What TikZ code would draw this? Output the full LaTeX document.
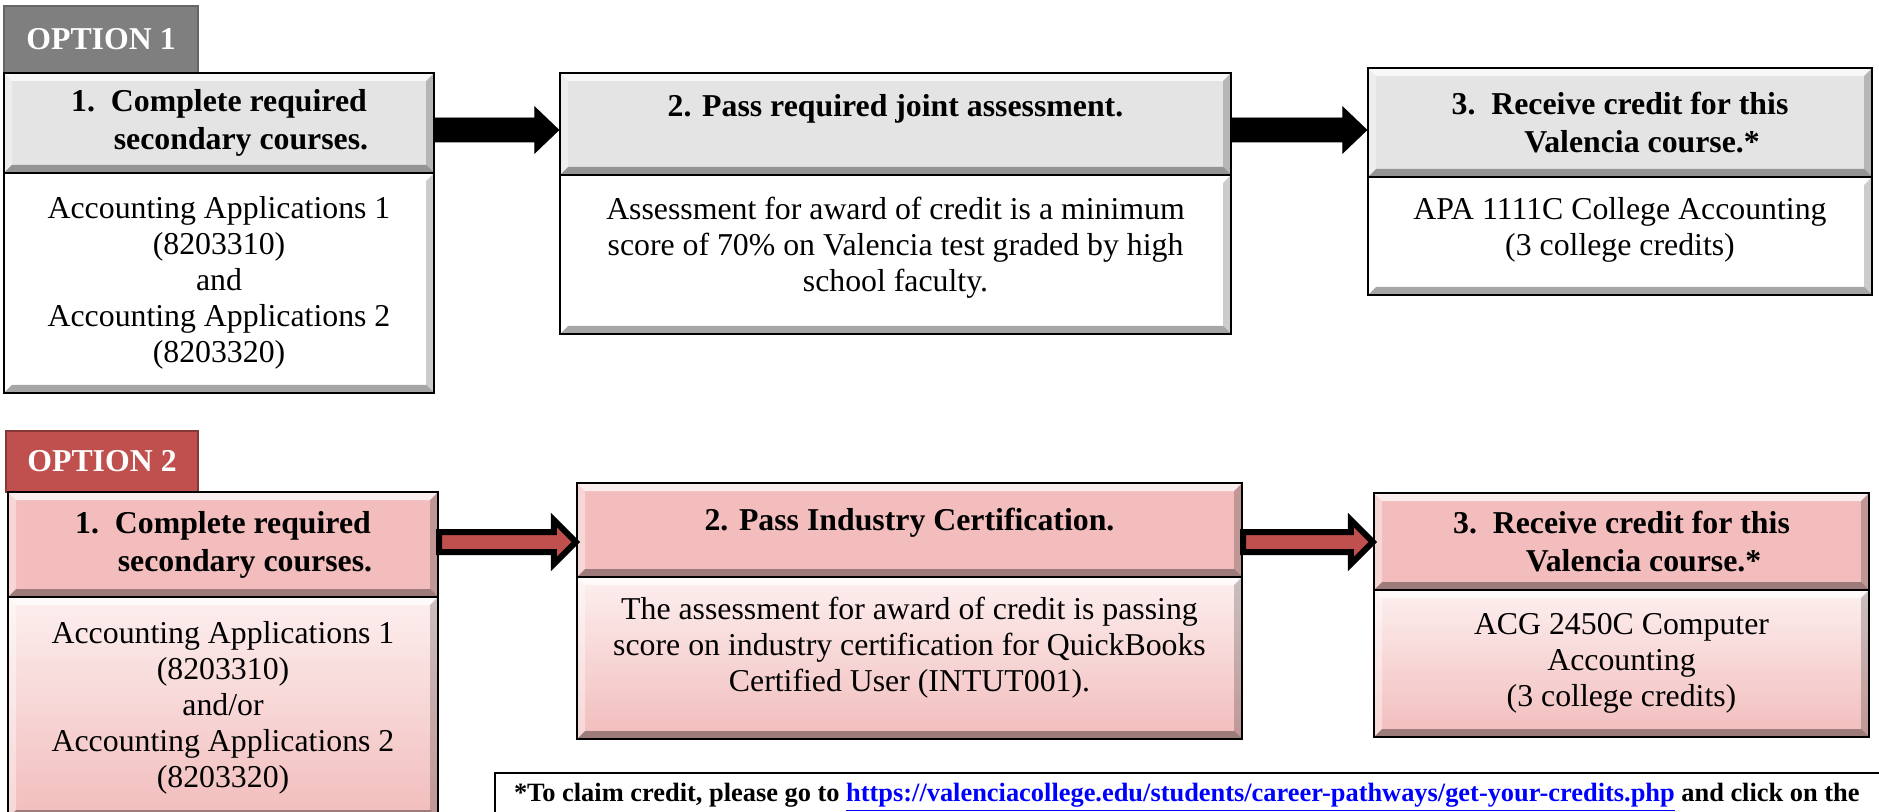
\documentclass[tikz,border=0pt]{standalone}
\usepackage{fontspec}
\setmainfont{Liberation Serif}
\usepackage{tikz}
\usetikzlibrary{calc}
\definecolor{colorTabOne}{HTML}{7F7F7F}
\definecolor{colorTabTwo}{HTML}{C0504D}
\definecolor{colorHdrGray}{HTML}{E4E4E4}
\definecolor{colorHdrPink}{HTML}{F2BDBC}
\definecolor{colorBodyTop}{HTML}{FDEFEF}
\definecolor{colorBodyBot}{HTML}{F1BDBC}
\newcommand{\bodyfont}{\fontsize{15.9}{18}\selectfont}
\newcommand{\hdrfont}{\fontsize{15.9}{19}\selectfont\bfseries}
% block arrow: style, from, to, row, half shaft, half head, head length
\newcommand{\blockarrow}[7]{%
  \draw[#1] let \p1=(#2.east), \p2=(#3.west), \p3=(#4) in
    (\x1,\y3+#5) -- (\x2-#7,\y3+#5) -- (\x2-#7,\y3+#6) -- (\x2,\y3)
    -- (\x2-#7,\y3-#6) -- (\x2-#7,\y3-#5) -- (\x1,\y3-#5) -- cycle;}
\tikzset{
   every path/.style={>=stealth},
   bevel/.style={path picture={
     \coordinate (pnw) at (path picture bounding box.north west);
     \coordinate (pne) at (path picture bounding box.north east);
     \coordinate (psw) at (path picture bounding box.south west);
     \coordinate (pse) at (path picture bounding box.south east);
     \fill[white,opacity=.75] (pnw) -- (pne) -- ($(pne)+(-4pt,-4pt)$) -- ($(pnw)+(4pt,-4pt)$) -- cycle;
     \fill[white,opacity=.4] (pnw) -- (psw) -- ($(psw)+(4pt,4pt)$) -- ($(pnw)+(4pt,-4pt)$) -- cycle;
     \fill[black,opacity=.2] (pne) -- (pse) -- ($(pse)+(-4pt,4pt)$) -- ($(pne)+(-4pt,-4pt)$) -- cycle;
     \fill[black,opacity=.35] (psw) -- (pse) -- ($(pse)+(-4pt,4pt)$) -- ($(psw)+(4pt,4pt)$) -- cycle;
   }},
   box/.style={draw=black,line width=1.2pt,inner sep=0pt,align=center,bevel},
   hdrA/.style={box,fill=colorHdrGray,font=\hdrfont},
   bodyA/.style={box,fill=white,font=\bodyfont},
   hdrB/.style={box,fill=colorHdrPink,font=\hdrfont},
   bodyB/.style={box,top color=colorBodyTop,bottom color=colorBodyBot,font=\bodyfont},
   tab/.style={inner sep=0pt,text=white,font=\hdrfont,line width=0.8pt},
   arrA/.style={fill=black},
   arrB/.style={fill=colorTabTwo,draw=black,line width=3pt},
   note/.style={draw=black,line width=1pt,anchor=north west,inner xsep=9.5pt,
     inner ysep=5pt,text depth=30pt,
     font=\fontsize{13.2}{16}\selectfont\bfseries},
}

\begin{document}
\begin{tikzpicture}[x=0.5pt,y=-0.5pt]
  \useasboundingbox (0,0) rectangle (1879,812);
  \clip (0,0) rectangle (1879,812);
  \coordinate (row1) at (0,130);
  \coordinate (row2) at (0,542);

  %% option 1
  \node[tab,fill=colorTabOne,draw=black!60,minimum width=97pt,minimum height=33.5pt]
    (tab1) at (101,39.5) {OPTION 1};

  \node[hdrA,minimum width=215pt,minimum height=50pt] (o1h1) at (219,123)
    {1.\ \ Complete required\\\hspace*{22pt}secondary courses.};
  \node[bodyA,minimum width=215pt,minimum height=110pt] (o1b1) at (219,283)
    {Accounting Applications 1\\(8203310)\\and\\Accounting Applications 2\\(8203320)};

  \node[hdrA,minimum width=335.5pt,minimum height=51pt] (o1h2) at (895.5,124)
    {2. Pass required joint assessment.\\~};
  \node[bodyA,minimum width=335.5pt,minimum height=79.5pt] (o1b2) at (895.5,254.5)
    {Assessment for award of credit is a minimum\\score of 70\% on Valencia test graded by high\\school faculty.\\[-8pt]~};

  \node[hdrA,minimum width=252pt,minimum height=54.5pt] (o1h3) at (1620,122.5)
    {3.\ \ Receive credit for this\\\hspace*{22pt}Valencia course.*};
  \node[bodyA,minimum width=252pt,minimum height=59pt] (o1b3) at (1620,236)
    {APA 1111C College Accounting\\(3 college credits)\\[-8pt]~};

  \blockarrow{arrA}{o1h1}{o1h2}{row1}{6pt}{11.5pt}{12pt}
  \blockarrow{arrA}{o1h2}{o1h3}{row1}{6pt}{11.5pt}{12pt}

  %% option 2
  \node[tab,fill=colorTabTwo,draw=colorTabTwo!70!black,minimum width=96pt,minimum height=30.5pt]
    (tab2) at (102,461.5) {OPTION 2};

  \node[hdrB,minimum width=215pt,minimum height=52.5pt] (o2h1) at (223,544.5)
    {1.\ \ Complete required\\\hspace*{22pt}secondary courses.};
  \node[bodyB,minimum width=215pt,minimum height=110.5pt] (o2b1) at (223,707.5)
    {Accounting Applications 1\\(8203310)\\and/or\\Accounting Applications 2\\(8203320)};

  \node[hdrB,minimum width=332.5pt,minimum height=47pt] (o2h2) at (909.5,530)
    {2. Pass Industry Certification.\\[-8pt]~};
  \node[bodyB,minimum width=332.5pt,minimum height=81pt] (o2b2) at (909.5,658)
    {The assessment for award of credit is passing\\score on industry certification for QuickBooks\\Certified User (INTUT001).\\[-4pt]~};

  \node[hdrB,minimum width=247.5pt,minimum height=48.5pt] (o2h3) at (1621.5,541.5)
    {3.\ \ Receive credit for this\\\hspace*{22pt}Valencia course.*};
  \node[bodyB,minimum width=247.5pt,minimum height=73.5pt] (o2b3) at (1621.5,663.5)
    {ACG 2450C Computer\\Accounting\\(3 college credits)};

  \blockarrow{arrB}{o2h1}{o2h2}{row2}{5pt}{11pt}{11pt}
  \blockarrow{arrB}{o2h2}{o2h3}{row2}{5pt}{11pt}{11pt}

  %% footnote
  \node[note] (claim) at (494,772)
    {\makebox[730pt][l]{*To claim credit, please go to \textcolor{blue}{\underline{https://valenciacollege.edu/students/career-pathways/get-your-credits.php}} and click on the}};
\end{tikzpicture}
\end{document}
